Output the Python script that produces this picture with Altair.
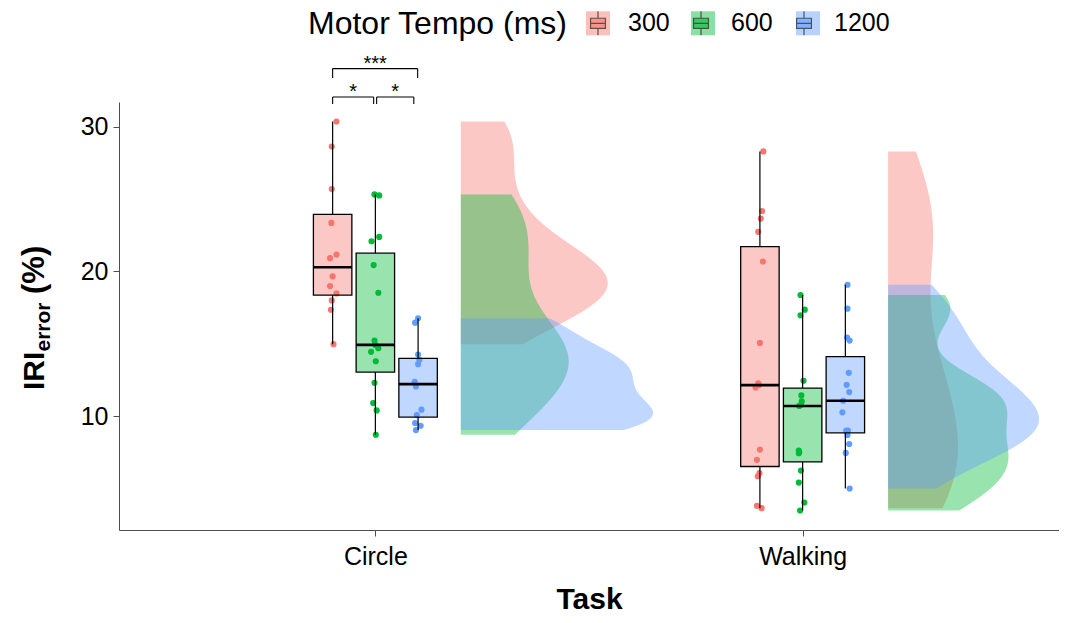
import json
import altair as alt
import pandas as pd

# ---------------- data ----------------
tasks = ["Circle", "Walking"]
tempos = ["300", "600", "1200"]
colors = ["#F8766D", "#00BA38", "#619CFF"]

circle_300 = [30.37, 28.64, 25.70, 23.36, 21.17, 20.92, 19.66, 18.99, 18.48, 18.00, 17.35, 14.97]
circle_300_jit = [0.009, -0.002, -0.002, -0.003, 0.009, -0.006, 0.000, -0.006, 0.009, -0.002, -0.004, 0.002]

circle_600 = [25.33, 25.26, 22.39, 22.09, 20.44, 18.53, 15.22, 14.92, 14.69, 14.44, 13.79, 12.30, 10.90, 10.39, 8.71]
circle_600_jit = [-0.002, 0.009, 0.009, -0.009, -0.004, 0.007, -0.002, 0.000, 0.007, -0.010, 0.001, -0.002, -0.005, 0.003, 0.001]

circle_1200 = [16.76, 16.46, 14.26, 13.89, 13.59, 12.37, 12.05, 10.44, 10.07, 9.52, 9.33, 9.03]
circle_1200_jit = [0.000, -0.007, 0.000, 0.003, 0.000, -0.008, -0.005, 0.008, -0.003, -0.007, 0.006, -0.005]

walking_300 = [28.30, 24.18, 23.66, 22.74, 20.69, 15.06, 12.26, 12.14, 11.98, 7.68, 6.97, 6.05, 5.84, 3.79, 3.63]
walking_300_jit = [0.008, 0.005, 0.002, -0.004, 0.007, 0.000, -0.004, -0.002, -0.010, 0.000, -0.007, -0.001, -0.005, -0.007, 0.004]

walking_600 = [18.37, 17.36, 16.97, 12.44, 11.43, 11.01, 10.78, 10.70, 7.61, 7.50, 7.43, 6.23, 5.40, 4.02, 3.47]
walking_600_jit = [-0.005, 0.005, -0.005, 0.002, -0.003, -0.002, -0.004, -0.008, -0.009, -0.008, -0.009, -0.004, -0.009, 0.004, -0.006]

walking_1200 = [19.08, 17.43, 15.43, 15.22, 12.99, 12.16, 11.66, 11.06, 10.26, 9.00, 8.99, 8.69, 8.07, 7.45, 4.99]
walking_1200_jit = [0.005, 0.005, 0.004, 0.010, 0.008, 0.003, 0.009, -0.005, -0.007, 0.002, 0.006, 0.005, 0.009, 0.001, 0.010]

# significance brackets (Circle task)
br_x1 = [0.900, 1.003, 0.900]
br_x2 = [0.996, 1.090, 1.099]
br_y = [32.07, 32.07, 34.03]
br_tip = [31.59, 31.59, 33.38]
br_label = ["*", "*", "***"]

# ---------------- tables ----------------
series = {
    ("Circle", "300"): (circle_300, circle_300_jit),
    ("Circle", "600"): (circle_600, circle_600_jit),
    ("Circle", "1200"): (circle_1200, circle_1200_jit),
    ("Walking", "300"): (walking_300, walking_300_jit),
    ("Walking", "600"): (walking_600, walking_600_jit),
    ("Walking", "1200"): (walking_1200, walking_1200_jit),
}
rows = []
for ti, task in enumerate(tasks):
    for pi, tempo in enumerate(tempos):
        vals, jits = series[(task, tempo)]
        for v, j in zip(vals, jits):
            rows.append(dict(task=task, tempo=tempo, tidx=ti + 1, pidx=pi, value=v, jit=j))
df = pd.DataFrame(rows)

br = pd.DataFrame(dict(x1=br_x1, x2=br_x2, y=br_y, tip=br_tip, label=br_label))
br["xm"] = (br["x1"] + br["x2"]) / 2

FONT = "Liberation Sans"
DODGE = 0.1
BOXW = 0.045
NUDGE = 0.2
VW = 0.45

xscale = alt.Scale(domain=[0.4, 2.6], nice=False, zero=False)
yscale = alt.Scale(domain=[2.12, 31.72], nice=False, zero=False)
xaxis = alt.Axis(
    title="Task", values=[1, 2],
    labelExpr=f"{json.dumps(tasks)}[datum.value - 1]",
    labelFontSize=25, labelColor="black", labelFont=FONT, labelPadding=8,
    titleFontSize=30, titleFontWeight="bold", titleFont=FONT, titleColor="black", titlePadding=15,
    tickSize=6, tickColor="#4d4d4d", domainColor="#4d4d4d", grid=False,
)
yaxis = alt.Axis(
    title=None, values=[10, 20, 30],
    labelFontSize=25, labelColor="black", labelFont=FONT, labelPadding=5,
    tickSize=6, tickColor="#4d4d4d", domainColor="#4d4d4d", grid=False,
)
legend_common = dict(
    title="Motor Tempo (ms)", orient="none", legendX=189, legendY=-92,
    direction="horizontal", titleOrient="left", titleFontSize=32, titleFontWeight="normal",
    titleFont=FONT, titleColor="black", titlePadding=17, titleLimit=500,
    labelFontSize=25, labelFont=FONT, labelColor="black", labelOffset=17,
    columnPadding=18, symbolSize=576, symbolStrokeWidth=1.2,
)
legend_bg = alt.Legend(
    **legend_common, symbolType="square", symbolStrokeColor="transparent",
    symbolOpacity=0.45, titleOpacity=0, labelOpacity=0,
)
legend_fg = alt.Legend(
    **legend_common,
    symbolType="M-0.62,-0.42H0.62V0.42H-0.62Z M-0.62,0H0.62 M0,-0.42V-1 M0,0.42V1",
    symbolStrokeColor="black", symbolOpacity=0.6,
)
cscale = alt.Scale(domain=tempos, range=colors)

# ---------------- violins (half, trimmed, nrd0 bandwidth, area scaling) ----------------
violin = (
    alt.Chart(df)
    .transform_joinaggregate(sd="stdev(value)", q1="q1(value)", q3="q3(value)", n="count()",
                             groupby=["task", "tempo"])
    .transform_calculate(bw="0.9*min(datum.sd,(datum.q3-datum.q1)/1.34)*pow(datum.n,-0.2)")
    .transform_calculate(vs="datum.value/datum.bw")
    .transform_joinaggregate(lo="min(vs)", hi="max(vs)", groupby=["task", "tempo"])
    .transform_density("vs", groupby=["task", "tempo", "tidx", "pidx", "bw", "lo", "hi"],
                       bandwidth=1, steps=2500, as_=["vs", "dens"])
    .transform_filter("datum.vs >= datum.lo - 0.004 && datum.vs <= datum.hi + 0.004")
    .transform_calculate(yv="clamp(datum.vs, datum.lo, datum.hi)*datum.bw", d="datum.dens/datum.bw",
                         tempo_bg="datum.tempo")
    .transform_joinaggregate(maxd="max(d)")
    .transform_calculate(xa=f"datum.tidx+{NUDGE}", xb=f"datum.tidx+{NUDGE}+{VW}*datum.d/datum.maxd")
    .mark_area(orient="horizontal", opacity=0.4)
    .encode(
        y=alt.Y("yv:Q", scale=yscale, axis=yaxis),
        x=alt.X("xa:Q", scale=xscale, axis=xaxis),
        x2="xb:Q",
        fill=alt.Fill("tempo_bg:N", scale=cscale, legend=legend_bg, sort=tempos),
        detail="task:N",
        order=alt.Order("pidx:Q"),
    )
)

# ---------------- points ----------------
points = (
    alt.Chart(df)
    .transform_calculate(xp=f"datum.tidx+(datum.pidx-1)*{DODGE}+datum.jit")
    .mark_circle(size=38, opacity=1)
    .encode(
        x=alt.X("xp:Q", scale=xscale, axis=xaxis),
        y=alt.Y("value:Q", scale=yscale, axis=yaxis),
        color=alt.Color("tempo:N", scale=cscale, legend=None, sort=tempos),
    )
)

# ---------------- boxes ----------------
box_base = (
    alt.Chart(df)
    .transform_aggregate(q1="q1(value)", q3="q3(value)", med="median(value)",
                         lo="min(value)", hi="max(value)",
                         groupby=["task", "tempo", "tidx", "pidx"])
    .transform_calculate(xc=f"datum.tidx+(datum.pidx-1)*{DODGE}")
    .transform_calculate(xl=f"datum.xc-{BOXW}", xr=f"datum.xc+{BOXW}")
)
wh_lo = box_base.mark_rule(color="black", strokeWidth=1.2).encode(
    x=alt.X("xc:Q", scale=xscale, axis=xaxis),
    y=alt.Y("lo:Q", scale=yscale, axis=yaxis), y2="q1:Q")
wh_hi = box_base.mark_rule(color="black", strokeWidth=1.2).encode(
    x=alt.X("xc:Q", scale=xscale, axis=xaxis),
    y=alt.Y("q3:Q", scale=yscale, axis=yaxis), y2="hi:Q")
boxes = box_base.mark_rect(fillOpacity=0.4, stroke="black", strokeWidth=1.3).encode(
    x=alt.X("xl:Q", scale=xscale, axis=xaxis), x2="xr:Q",
    y=alt.Y("q1:Q", scale=yscale, axis=yaxis), y2="q3:Q",
    fill=alt.Fill("tempo:N", scale=cscale, legend=legend_fg, sort=tempos),
)
medians = box_base.mark_rule(color="black", strokeWidth=2.6).encode(
    x=alt.X("xl:Q", scale=xscale, axis=xaxis), x2="xr:Q",
    y=alt.Y("med:Q", scale=yscale, axis=yaxis))

# ---------------- significance brackets ----------------
bchart = alt.Chart(br)
b_h = bchart.mark_rule(color="black", strokeWidth=1.1).encode(
    x=alt.X("x1:Q", scale=xscale, axis=xaxis), x2="x2:Q",
    y=alt.Y("y:Q", scale=yscale, axis=yaxis))
b_l = bchart.mark_rule(color="black", strokeWidth=1.1).encode(
    x=alt.X("x1:Q", scale=xscale, axis=xaxis),
    y=alt.Y("tip:Q", scale=yscale, axis=yaxis), y2="y:Q")
b_r = bchart.mark_rule(color="black", strokeWidth=1.1).encode(
    x=alt.X("x2:Q", scale=xscale, axis=xaxis),
    y=alt.Y("tip:Q", scale=yscale, axis=yaxis), y2="y:Q")
b_t = bchart.mark_text(fontSize=20, font=FONT, color="black", baseline="alphabetic", dy=1).encode(
    x=alt.X("xm:Q", scale=xscale, axis=xaxis),
    y=alt.Y("y:Q", scale=yscale, axis=yaxis),
    text="label:N")

# ---------------- y-axis title with subscript ----------------
ttl = alt.Chart(pd.DataFrame({"a": [0]}))
t1 = ttl.mark_text(text="IRI", angle=270, align="left", baseline="alphabetic", fontSize=30,
                   fontWeight="bold", font=FONT, color="black").encode(
    x=alt.value(-75), y=alt.value(288))
t2 = ttl.mark_text(text="error", angle=270, align="left", baseline="alphabetic", fontSize=21,
                   fontWeight="bold", font=FONT, color="black").encode(
    x=alt.value(-69), y=alt.value(249.5))
t3 = ttl.mark_text(text="(%)", angle=270, align="left", baseline="alphabetic", fontSize=31,
                   fontWeight="bold", font=FONT, color="black").encode(
    x=alt.value(-75), y=alt.value(192))

chart = (
    alt.layer(violin, points, wh_lo, wh_hi, boxes, medians, b_h, b_l, b_r, b_t, t1, t2, t3)
    .resolve_scale(fill="independent")
    .properties(
        width=940, height=428,
        autosize=alt.AutoSizeParams(type="none"),
        padding={"left": 111, "top": 94, "right": 0, "bottom": 85},
    )
    .configure(font=FONT)
    .configure_view(stroke=None)
)

chart.save("out.html", embed_options={"renderer": "svg", "actions": False})
